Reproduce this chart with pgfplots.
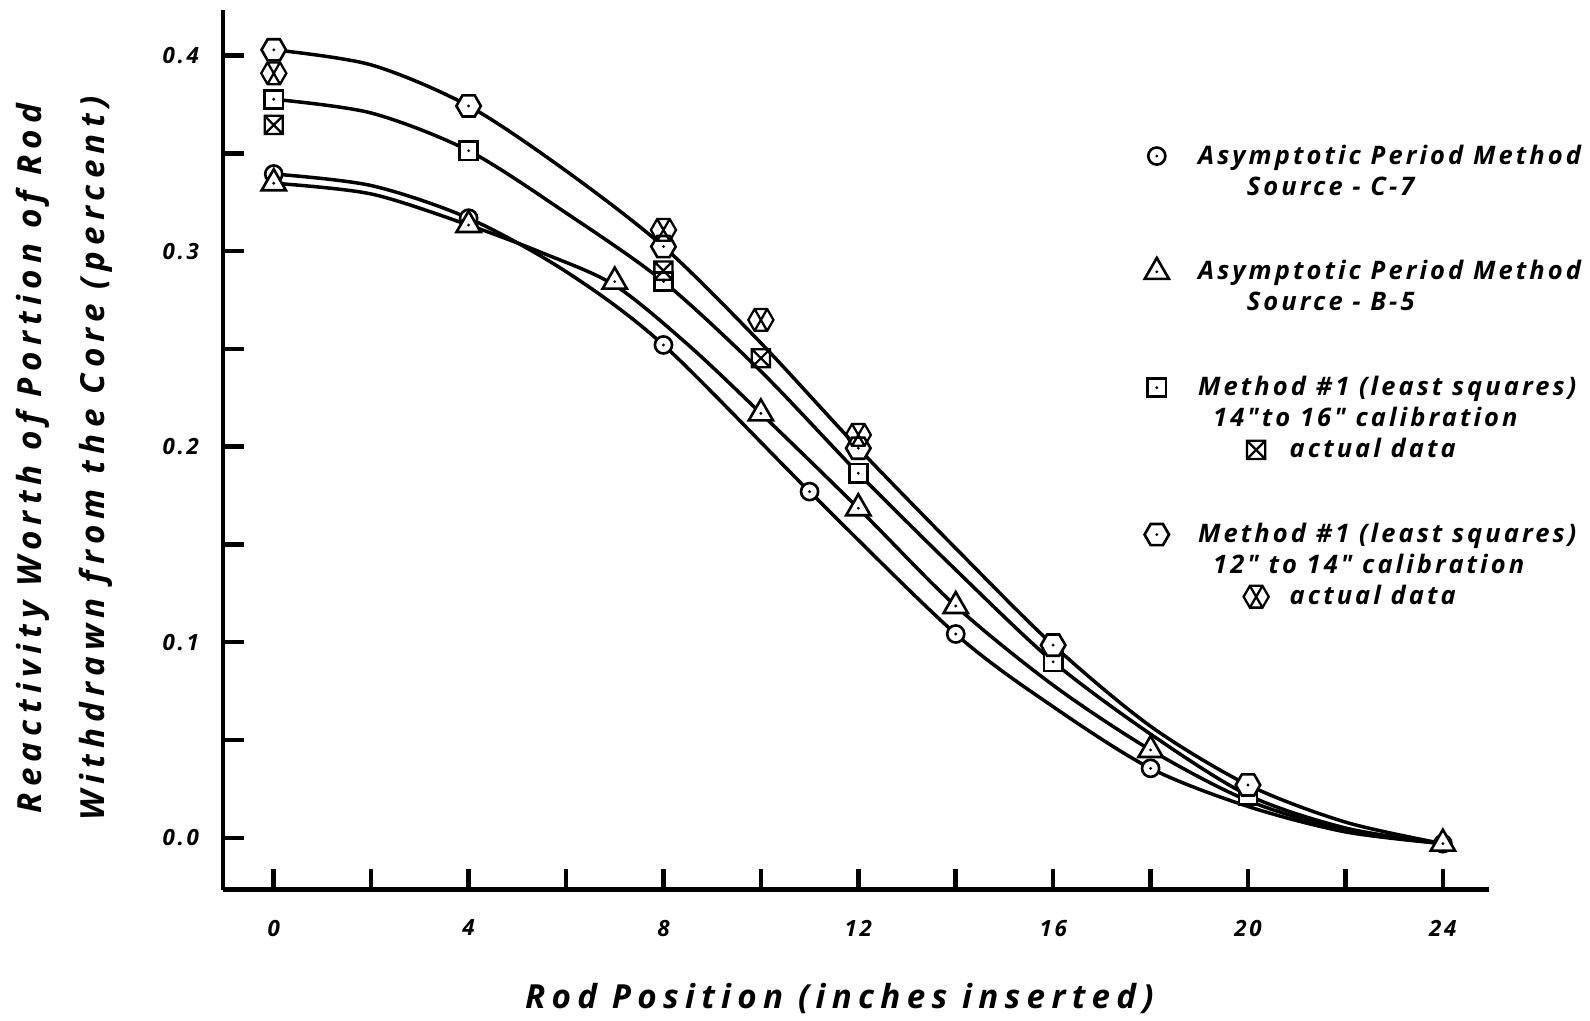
\documentclass[border=0pt]{standalone}
\usepackage{fontspec}
\usepackage{pgfplots}
\pgfplotsset{compat=1.18}
\setmainfont{Open Sans}
\newfontfamily\leroy{Open Sans}[LetterSpace=12]
\newfontfamily\leroywide{Open Sans}[LetterSpace=19]
\newcommand\labfont{\leroywide\bfseries\itshape\fontsize{9.5}{18.2}\selectfont}
\newcommand\legfont{\leroy\bfseries\itshape\fontsize{7.3}{9}\selectfont}
\newcommand\tickfont{\leroy\bfseries\itshape\fontsize{6.4}{8}\selectfont}
% row struts for the hand-made legend
\newcommand\rowN{\rule[-0.1cm]{0pt}{0.36cm}}
\newcommand\rowG{\rule[-0.1cm]{0pt}{0.90cm}}

% marks of the original: dotted circle, triangle, square, hexagon, and crossed ones
\newcommand\markdot{\pgfscope\pgfsetfillcolor{black}\pgfpathcircle{\pgfpointorigin}{0.45pt}\pgfusepathqfill\endpgfscope}
\newcommand\hexpath{%
  \pgfpathmoveto{\pgfpointpolar{0}{\pgfplotmarksize}}%
  \pgfpathlineto{\pgfpointpolar{60}{\pgfplotmarksize}}%
  \pgfpathlineto{\pgfpointpolar{120}{\pgfplotmarksize}}%
  \pgfpathlineto{\pgfpointpolar{180}{\pgfplotmarksize}}%
  \pgfpathlineto{\pgfpointpolar{240}{\pgfplotmarksize}}%
  \pgfpathlineto{\pgfpointpolar{300}{\pgfplotmarksize}}%
  \pgfpathclose}
\newcommand\sqpath{\pgfpathrectangle{\pgfpoint{-\pgfplotmarksize}{-\pgfplotmarksize}}{\pgfpoint{2\pgfplotmarksize}{2\pgfplotmarksize}}}
\pgfdeclareplotmark{cdot}{\pgfpathcircle{\pgfpointorigin}{\pgfplotmarksize}\pgfusepathqfillstroke\markdot}
\pgfdeclareplotmark{tdot}{%
  \pgfpathmoveto{\pgfpointpolar{90}{\pgfplotmarksize}}%
  \pgfpathlineto{\pgfpointpolar{210}{\pgfplotmarksize}}%
  \pgfpathlineto{\pgfpointpolar{330}{\pgfplotmarksize}}%
  \pgfpathclose\pgfusepathqfillstroke\markdot}
\pgfdeclareplotmark{sdot}{\sqpath\pgfusepathqfillstroke\markdot}
\pgfdeclareplotmark{hdot}{\hexpath\pgfusepathqfillstroke\markdot}
\pgfdeclareplotmark{sx}{\sqpath
  \pgfpathmoveto{\pgfpoint{-\pgfplotmarksize}{-\pgfplotmarksize}}\pgfpathlineto{\pgfpoint{\pgfplotmarksize}{\pgfplotmarksize}}%
  \pgfpathmoveto{\pgfpoint{-\pgfplotmarksize}{\pgfplotmarksize}}\pgfpathlineto{\pgfpoint{\pgfplotmarksize}{-\pgfplotmarksize}}%
  \pgfusepathqstroke}
\pgfdeclareplotmark{hx}{\hexpath
  \pgfpathmoveto{\pgfpointpolar{60}{\pgfplotmarksize}}\pgfpathlineto{\pgfpointpolar{240}{\pgfplotmarksize}}%
  \pgfpathmoveto{\pgfpointpolar{120}{\pgfplotmarksize}}\pgfpathlineto{\pgfpointpolar{300}{\pgfplotmarksize}}%
  \pgfusepathqstroke}

\pgfplotsset{
  mC/.style={only marks, mark=cdot, mark size=2.45pt, mark options={fill=white, line width=0.75pt}},
  mT/.style={only marks, mark=tdot, mark size=4.0pt, mark options={fill=white, line width=0.75pt}},
  mS/.style={only marks, mark=sdot, mark size=2.6pt, mark options={fill=white, line width=0.75pt}},
  mH/.style={only marks, mark=hdot, mark size=3.5pt, mark options={fill=white, line width=0.75pt}},
  mSX/.style={only marks, mark=sx, mark size=2.6pt, mark options={line width=0.65pt}},
  mHX/.style={only marks, mark=hx, mark size=3.6pt, mark options={line width=0.65pt}},
  fit/.style={black, line width=1.0pt, smooth, no markers, forget plot},
  leg/.style={legend image code/.code={\path (-0.1cm,0cm) (0.5cm,0cm); \draw[##1] plot coordinates {(0.09cm,0.08cm)};}},
  legsub/.style={legend image code/.code={\path (-0.1cm,0cm) (0.5cm,0cm); \draw[##1,overlay] plot coordinates {(1.09cm,0.08cm)};}},
}

\begin{document}
\begin{tikzpicture}
\begin{axis}[
  at={(0,0)}, anchor=south west,
  scale only axis, width=12.735cm, height=8.849cm,
  xmin=-1.04, xmax=24.94, ymin=-0.02645, ymax=0.4232,
  axis x line=bottom, axis y line=left,
  axis line style={-, line width=1.3pt},
  tick align=inside,
  xtick={0,4,8,12,16,20,24}, minor xtick={2,6,10,14,18,22},
  xticklabels={0,4,8,12,16,20,24},
  ytick={0,0.1,0.2,0.3,0.4}, minor ytick={0.05,0.15,0.25,0.35},
  yticklabels={0.0,0.1,0.2,0.3,0.4},
  major tick length=0.21cm, minor tick length=0.21cm,
  major tick style={black, line width=1.3pt},
  minor tick style={black, line width=1.3pt},
  yticklabel style={font=\tickfont, anchor=east, inner sep=0pt, xshift=-0.235cm},
  xticklabel style={font=\tickfont, anchor=north, inner sep=0pt, yshift=-0.30cm},
  xlabel={Rod Position (inches inserted)},
  xlabel style={at={(axis description cs:0.487,-0.1243)}, anchor=center, font=\labfont},
  ylabel={Reactivity Worth of Portion of Rod\\Withdrawn from the Core (percent)},
  ylabel style={at={(axis description cs:-0.1254,0.49)}, anchor=center, align=center, font=\labfont},
  legend style={at={(axis description cs:0.7223,0.8544)}, anchor=north west, draw=none, fill=none,
    inner sep=0pt, outer sep=0pt, row sep=0pt, column sep=0pt, font=\legfont,
    nodes={inner sep=0pt, anchor=base west}},
]

% fitted curves
\addplot[fit] coordinates {(0,0.4029) (2,0.3952) (4,0.3742) (6,0.341) (8,0.3023) (10,0.253) (12,0.1992) (14,0.148) (16,0.0985) (18,0.057) (20,0.027) (22,0.008) (24,-0.003)};
\addplot[fit] coordinates {(0,0.3776) (2,0.3706) (4,0.3513) (6,0.3195) (8,0.2844) (10,0.2385) (12,0.1864) (14,0.137) (16,0.090) (18,0.053) (20,0.0218) (22,0.005) (24,-0.003)};
\addplot[fit] coordinates {(0,0.3347) (2,0.3292) (4,0.3133) (5.5,0.2992) (7,0.2825) (8.5,0.2522) (10,0.217) (12,0.1685) (14,0.1185) (16,0.078) (18,0.0449) (20,0.019) (22,0.004) (24,-0.003)};
\addplot[fit] coordinates {(0,0.3394) (2,0.3335) (4,0.3168) (6,0.2895) (8,0.2520) (11,0.177) (14,0.1042) (16,0.067) (18,0.0355) (20,0.016) (22,0.003) (24,-0.003)};

% measured points
\addplot[mC, forget plot] coordinates {(0,0.3394) (4,0.3168) (8,0.2520) (11,0.1770) (14,0.1042) (18,0.0355) (24,-0.003)};
\addplot[mT, forget plot] coordinates {(0,0.3347) (4,0.3133) (7,0.2844) (10,0.2170) (12,0.1685) (14,0.1185) (18,0.0449) (24,-0.003)};
\addplot[mS, forget plot] coordinates {(0,0.3776) (4,0.3513) (8,0.2844) (12,0.1864) (16,0.0900) (20,0.0218)};
\addplot[mH, forget plot] coordinates {(0,0.4029) (4,0.3742) (8,0.3023) (12,0.1992) (16,0.0985) (20,0.0270)};
\addplot[mSX, forget plot] coordinates {(0,0.3645) (8,0.2900) (10,0.2452)};
\addplot[mHX, forget plot] coordinates {(0,0.3909) (8,0.3108) (10,0.2648) (12,0.2060)};

% legend, one row per line of lettering
\addlegendimage{mC, leg}
\addlegendentry{\rowN Asymptotic Period Method}
\addlegendimage{empty legend}
\addlegendentry{\rowN\hspace*{0.49cm}Source - C-7}
\addlegendimage{mT, leg}
\addlegendentry{\rowG Asymptotic Period Method}
\addlegendimage{empty legend}
\addlegendentry{\rowN\hspace*{0.49cm}Source - B-5}
\addlegendimage{mS, leg}
\addlegendentry{\rowG Method \#1 (least squares)}
\addlegendimage{empty legend}
\addlegendentry{\rowN\hspace*{0.15cm}14"to 16" calibration}
\addlegendimage{mSX, legsub}
\addlegendentry{\rowN\hspace*{0.92cm}actual data}
\addlegendimage{mH, leg}
\addlegendentry{\rowG Method \#1 (least squares)}
\addlegendimage{empty legend}
\addlegendentry{\rowN\hspace*{0.15cm}12" to 14" calibration}
\addlegendimage{mHX, legsub}
\addlegendentry{\rowN\hspace*{0.92cm}actual data}
\end{axis}
\pgfresetboundingbox
\path (-2.245cm,-1.323cm) rectangle (13.755cm,8.951cm);
\end{tikzpicture}
\end{document}
